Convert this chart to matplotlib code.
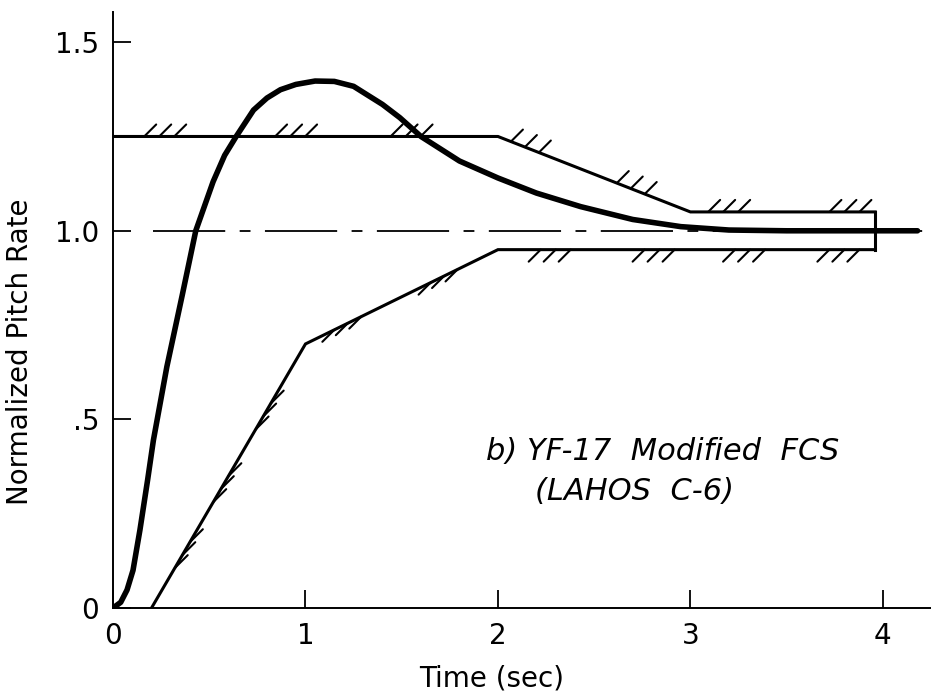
import numpy as np
import matplotlib
matplotlib.use("Agg")
import matplotlib.pyplot as plt

# Pitch rate response
resp_t = [0.0, 0.04, 0.073, 0.104, 0.14, 0.18, 0.21, 0.28, 0.36, 0.43, 0.52, 0.58,
          0.64, 0.73, 0.8, 0.87, 0.95, 1.05, 1.15, 1.25, 1.4, 1.49, 1.6, 1.8, 2.0,
          2.2, 2.43, 2.7, 2.95, 3.2, 3.5, 4.18]
resp_q = [0.0, 0.015, 0.048, 0.10, 0.207, 0.34, 0.445, 0.64, 0.83, 1.0, 1.13, 1.20,
          1.25, 1.32, 1.352, 1.374, 1.388, 1.397, 1.396, 1.383, 1.335, 1.30, 1.25,
          1.185, 1.14, 1.10, 1.064, 1.03, 1.011, 1.002, 1.0, 1.0]

# LAHOS envelope boundaries
upper_t = [0.0, 2.0, 3.0, 3.96]
upper_q = [1.25, 1.25, 1.05, 1.05]
lower_t = [0.2, 1.0, 2.0, 3.96]
lower_q = [0.0, 0.70, 0.95, 0.95]

# steady state reference
ref_t = [0.21, 4.25]
ref_q = [1.0, 1.0]

# centres of the hatch groups along each boundary
upper_hatch = [0.24, 0.92, 1.52, 2.14, 2.69, 3.17, 3.80]
lower_hatch = [0.36, 0.56, 0.78, 1.22, 1.72, 2.30, 2.84, 3.31, 3.80]

fig = plt.figure(figsize=(9.31, 6.95), dpi=100)
ax = fig.add_axes([113 / 931, 1 - 608 / 695, 1 - 113 / 931, (608 - 12) / 695])
ax.set_xlim(0, 4.25)
ax.set_ylim(0, 1.58)

ax.plot(ref_t, ref_q, color="black", lw=1.3, linestyle=(0, (40, 8, 6, 8)))
ax.plot(upper_t, upper_q, color="black", lw=2.2, solid_joinstyle="miter")
ax.plot(lower_t, lower_q, color="black", lw=2.2, solid_joinstyle="miter")
ax.plot([upper_t[-1], lower_t[-1]], [upper_q[-1], lower_q[-1]], color="black", lw=2.2)
ax.plot(resp_t, resp_q, color="black", lw=4, solid_capstyle="round", solid_joinstyle="round")


def hatch(xs, ys, centres, offset_fn, gap=15):
    disp = ax.transData.transform(np.column_stack([xs, ys]))
    s = np.concatenate([[0], np.cumsum(np.hypot(np.diff(disp[:, 0]), np.diff(disp[:, 1])))])
    inv = ax.transData.inverted()
    for tc in centres:
        sc = np.interp(tc, xs, s)
        for k in (-1, 0, 1):
            sk = sc + k * gap
            p = (np.interp(sk, s, disp[:, 0]), np.interp(sk, s, disp[:, 1]))
            base = inv.transform(p)
            ax.annotate("", xy=base, xytext=offset_fn(base[0]), textcoords="offset pixels",
                        arrowprops=dict(arrowstyle="-", lw=1.5, color="black",
                                        shrinkA=0, shrinkB=0))


hatch(upper_t, upper_q, upper_hatch, lambda t: (12, 12))
hatch(lower_t, lower_q, lower_hatch, lambda t: (13, 13) if t < 1.0 else (-12, -12))

ax.spines["top"].set_visible(False)
ax.spines["right"].set_visible(False)
ax.spines["left"].set_linewidth(1.4)
ax.spines["bottom"].set_linewidth(1.4)

ax.set_xticks([0, 1, 2, 3, 4])
ax.set_xticklabels(["0", "1", "2", "3", "4"])
ax.set_yticks([0, 0.5, 1.0, 1.5])
ax.set_yticklabels(["0", ".5", "1.0", "1.5"])
ax.tick_params(direction="in", length=13, width=1.3, labelsize=20, pad=10)

ax.set_xlabel("Time (sec)", fontsize=20)
ax.set_ylabel("Normalized Pitch Rate", fontsize=20)
ax.xaxis.set_label_coords((492 - 113) / 818, -0.095)
ax.yaxis.set_label_coords(-(113 - 34) / 818, 0.43)

ax.text(1.94, 0.393, "b) YF-17  Modified  FCS", fontsize=22, style="italic", va="baseline")
ax.text(2.19, 0.286, "(LAHOS  C-6)", fontsize=22, style="italic", va="baseline")

fig.savefig("out.png", dpi=100)
